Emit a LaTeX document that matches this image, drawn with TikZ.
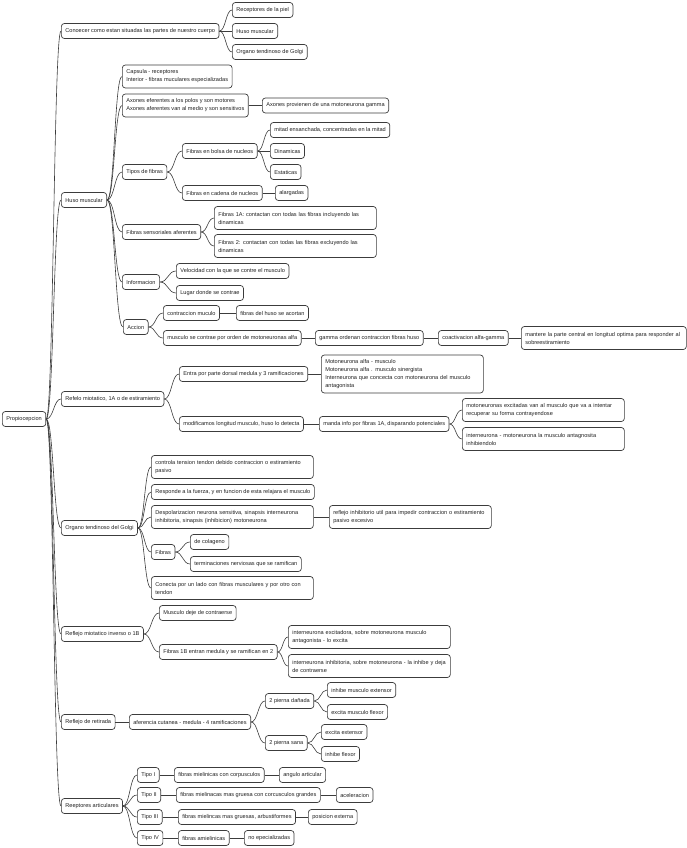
\documentclass[tikz,border=0pt]{standalone}
\usepackage{fontspec}
\setmainfont{Liberation Sans}
\usetikzlibrary{calc}
\definecolor{linegray}{HTML}{3C3C3C}
\definecolor{textgray}{HTML}{222222}

\begin{document}
\begin{tikzpicture}[x=1pt, y=-1pt,
  box/.style={rectangle, draw=linegray, line width=0.7pt, rounded corners=3pt,
    fill=white, anchor=west, inner xsep=4pt, inner ysep=0pt, minimum height=15pt,
    text=textgray, font=\fontsize{5.6}{8}\selectfont, align=left},
  wide/.style={box, text width=154pt},
  two/.style={minimum height=23pt},
  link/.style={draw=linegray, line width=0.6pt,
    to path={let \p1=(\tikztostart), \p2=(\tikztotarget), \p3=($(\p1)!0.5!(\p2)$)
      in .. controls (\x3,\y1) and (\x3,\y2) .. (\p2)}}
]
\useasboundingbox (0,0) rectangle (687,848);

% root and first level
\node[box] (root)     at (2,419)  {Propiocepcion};
\node[box] (conocer)  at (61,31)  {Conoecer como estan situadas las partes de nuestro cuerpo};
\node[box] (huso)     at (61,200) {Huso muscular};
\node[box] (refelo)   at (61,399) {Refelo miotatico, 1A o de estiramiento};
\node[box] (golgi)    at (61,528) {Organo tendinoso del Golgi};
\node[box] (inverso)  at (61,634) {Reflejo miotatico inverso o 1B};
\node[box] (retirada) at (61,722) {Reflejo de retirada};
\node[box] (articul)  at (61,806) {Reeptores articulares};

% conocer
\node[box] (piel)     at (232,10) {Receptores de la piel};
\node[box] (conhuso)  at (232,31) {Huso muscular};
\node[box] (congolgi) at (232,52) {Organo tendinoso de Golgi};

% huso muscular
\node[box, two] (capsula)  at (122,76.5)  {Capsula - receptores\\Interior - fibras muculares especializadas};
\node[box, two] (axones)   at (122,105.5) {Axones eferentes a los polos y son motores\\Axones aferentes van al medio y son sensitivos};
\node[box]      (gammamot) at (262,105.5) {Axones provienen de una motoneurona gamma};
\node[box] (tipos)  at (122,172) {Tipos de fibras};
\node[box] (bolsa)  at (182,151) {Fibras en bolsa de nucleos};
\node[box] (mitad)  at (270,130) {mitad ensanchada, concentradas en la mitad};
\node[box] (dinam)  at (270,151) {Dinamicas};
\node[box] (estat)  at (270,172) {Estaticas};
\node[box] (cadena) at (182,193) {Fibras en cadena de nucleos};
\node[box] (alarg)  at (275,193) {alargadas};
\node[box] (sensor) at (122,232) {Fibras sensoriales aferentes};
\node[wide, two] (fibrasA) at (214,218) {Fibras 1A: contactan con todas las fibras incluyendo las\\dinamicas};
\node[wide, two] (fibras2) at (214,246) {Fibras 2: contactan con todas las fibras excluyendo las\\dinamicas};
\node[box] (info)   at (122,282) {Informacion};
\node[box] (veloc)  at (176,271) {Velocidad con la que se contre el musculo};
\node[box] (lugar)  at (176,293) {Lugar donde se contrae};
\node[box] (accion) at (123,327) {Accion};
\node[box] (contr)  at (163,313) {contraccion muculo};
\node[box] (acort)  at (236,313) {fibras del huso se acortan};
\node[box] (orden)  at (163,338) {musculo se contrae por orden de motoneuronas alfa};
\node[box] (gammaord) at (315,338) {gamma ordenan contraccion fibras huso};
\node[box] (coact)  at (438,338) {coactivacion alfa-gamma};
\node[wide, two, text width=157pt] (mantere) at (521,338) {mantere la parte central en longitud optima para responder al\\sobreestiramiento};

% reflejo miotatico
\node[box] (entra) at (179,374) {Entra por parte dorsal medula y 3 ramificaciones};
\node[wide, minimum height=38pt] (moto) at (321,374) {Motoneurona alfa - musculo\\Motoneurona alfa . musculo sinergista\\Interneurona que concecta con motoneurona del musculo\\antagonista};
\node[box] (modif) at (179,424) {modificamos longitud musculo, huso lo detecta};
\node[box] (manda) at (319,424) {manda info por fibras 1A, disparando potenciales};
\node[wide, two] (excit) at (462,410) {motoneuronas excitadas van al musculo que va a intentar\\recuperar su forma contrayendose};
\node[wide, two] (inter) at (462,439) {interneurona - motoneurona la musculo antagnosita\\inhibiendolo};

% organo tendinoso
\node[wide, two] (controla) at (151,467) {controla tension tendon debido contraccion o estiramiento\\pasivo};
\node[box]       (responde) at (151,492) {Responde a la fuerza, y en funcion de esta relajara el musculo};
\node[wide, two] (despol)   at (151,517) {Despolarizacion neurona sensitiva, sinapsis interneurona\\inhibitoria, sinapsis (inhibicion) motoneurona};
\node[wide, two] (reflinh)  at (329,517) {reflejo inhibitorio util para impedir contraccion o estiramiento\\pasivo excesivo};
\node[box] (fibras) at (151,552) {Fibras};
\node[box] (colag)  at (190,542) {de colageno};
\node[box] (termin) at (190,564) {terminaciones nerviosas que se ramifican};
\node[wide, two] (conecta) at (151,588) {Conecta por un lado con fibras musculares y por otro con\\tendon};

% reflejo inverso
\node[box] (deje)   at (159,613) {Musculo deje de contraerse};
\node[box] (entran) at (159,652) {Fibras 1B entran medula y se ramifican en 2};
\node[wide, two] (interex)  at (288,637) {interneurona excitadora, sobre motoneurona musculo\\antagonista - lo excita};
\node[wide, two] (interinh) at (288,666) {interneurona inhibitoria, sobre motoneurona - la inhibe y deja\\de contraerse};

% reflejo de retirada
\node[box] (aferencia) at (129,722) {aferencia cutanea - medula - 4 ramificaciones};
\node[box] (danada)  at (265,701) {2 pierna dañada};
\node[box] (inhext)  at (327,690) {inhibe musculo extensor};
\node[box] (excflex) at (327,712) {excita musculo flexor};
\node[box] (sana)    at (265,743) {2 pierna sana};
\node[box] (excext)  at (321,732) {excita extensor};
\node[box] (inhflex) at (321,754) {inhibe flexor};

% receptores articulares
\node[box] (tipoI)   at (137,775) {Tipo I};
\node[box] (tipoII)  at (137,795) {Tipo II};
\node[box] (tipoIII) at (137,817) {Tipo III};
\node[box] (tipoIV)  at (137,838) {Tipo IV};
\node[box] (fI)   at (174,775) {fibras mielinicas con corpusculos};
\node[box] (fII)  at (176,795) {fibras mielinacas mas gruesa con corcusculos grandes};
\node[box] (fIII) at (178,817) {fibras mielincas mas gruesas, arbustiformes};
\node[box] (fIV)  at (178,838) {fibras amielinicas};
\node[box] (angulo) at (279,775) {angulo articular};
\node[box] (acel)   at (336,795) {aceleracion};
\node[box] (posic)  at (308,817) {posicion externa};
\node[box] (noesp)  at (244,838) {no epecializadas};

\draw[link] (root.east) to (conocer.west);
\draw[link] (root.east) to (huso.west);
\draw[link] (root.east) to (refelo.west);
\draw[link] (root.east) to (golgi.west);
\draw[link] (root.east) to (inverso.west);
\draw[link] (root.east) to (retirada.west);
\draw[link] (root.east) to (articul.west);

\draw[link] (conocer.east) to (piel.west);
\draw[link] (conocer.east) to (conhuso.west);
\draw[link] (conocer.east) to (congolgi.west);

\draw[link] (huso.east) to (capsula.west);
\draw[link] (huso.east) to (axones.west);
\draw[link] (huso.east) to (tipos.west);
\draw[link] (huso.east) to (sensor.west);
\draw[link] (huso.east) to (info.west);
\draw[link] (huso.east) to (accion.west);
\draw[link] (axones.east) to (gammamot.west);
\draw[link] (tipos.east) to (bolsa.west);
\draw[link] (tipos.east) to (cadena.west);
\draw[link] (bolsa.east) to (mitad.west);
\draw[link] (bolsa.east) to (dinam.west);
\draw[link] (bolsa.east) to (estat.west);
\draw[link] (cadena.east) to (alarg.west);
\draw[link] (sensor.east) to (fibrasA.west);
\draw[link] (sensor.east) to (fibras2.west);
\draw[link] (info.east) to (veloc.west);
\draw[link] (info.east) to (lugar.west);
\draw[link] (accion.east) to (contr.west);
\draw[link] (accion.east) to (orden.west);
\draw[link] (contr.east) to (acort.west);
\draw[link] (orden.east) to (gammaord.west);
\draw[link] (gammaord.east) to (coact.west);
\draw[link] (coact.east) to (mantere.west);

\draw[link] (refelo.east) to (entra.west);
\draw[link] (refelo.east) to (modif.west);
\draw[link] (entra.east) to (moto.west);
\draw[link] (modif.east) to (manda.west);
\draw[link] (manda.east) to (excit.west);
\draw[link] (manda.east) to (inter.west);

\draw[link] (golgi.east) to (controla.west);
\draw[link] (golgi.east) to (responde.west);
\draw[link] (golgi.east) to (despol.west);
\draw[link] (golgi.east) to (fibras.west);
\draw[link] (golgi.east) to (conecta.west);
\draw[link] (despol.east) to (reflinh.west);
\draw[link] (fibras.east) to (colag.west);
\draw[link] (fibras.east) to (termin.west);

\draw[link] (inverso.east) to (deje.west);
\draw[link] (inverso.east) to (entran.west);
\draw[link] (entran.east) to (interex.west);
\draw[link] (entran.east) to (interinh.west);

\draw[link] (retirada.east) to (aferencia.west);
\draw[link] (aferencia.east) to (danada.west);
\draw[link] (aferencia.east) to (sana.west);
\draw[link] (danada.east) to (inhext.west);
\draw[link] (danada.east) to (excflex.west);
\draw[link] (sana.east) to (excext.west);
\draw[link] (sana.east) to (inhflex.west);

\draw[link] (articul.east) to (tipoI.west);
\draw[link] (articul.east) to (tipoII.west);
\draw[link] (articul.east) to (tipoIII.west);
\draw[link] (articul.east) to (tipoIV.west);
\draw[link] (tipoI.east) to (fI.west);
\draw[link] (tipoII.east) to (fII.west);
\draw[link] (tipoIII.east) to (fIII.west);
\draw[link] (tipoIV.east) to (fIV.west);
\draw[link] (fI.east) to (angulo.west);
\draw[link] (fII.east) to (acel.west);
\draw[link] (fIII.east) to (posic.west);
\draw[link] (fIV.east) to (noesp.west);
\end{tikzpicture}
\end{document}
